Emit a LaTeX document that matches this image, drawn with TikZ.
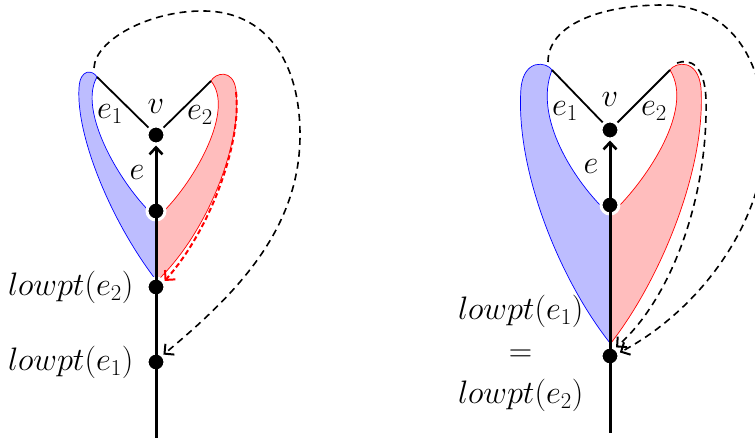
\documentclass[tikz,border=0pt]{standalone}
\usepackage{fix-cm}
\usetikzlibrary{arrows.meta,backgrounds}
\begin{document}
\begin{tikzpicture}[x=1pt,y=-1pt,
  font=\fontsize{32.5}{42}\selectfont,
  dot/.style={circle,fill=black,draw=white,line width=3pt,minimum size=18pt,inner sep=0pt},
  spine/.style={line width=3pt},
  edgeline/.style={line width=1.8pt},
  blueleaf/.style={draw=blue,fill=blue!26,line width=0.7pt},
  redleaf/.style={draw=red,fill=red!26,line width=0.7pt},
  tipstyle/.style={-{Straight Barb[length=7pt,width=14pt,line width=2pt]}},
  spinetip/.style={-{Straight Barb[length=7pt,width=13pt,line width=2.6pt]}},
  dasharrow/.style={line width=1.6pt,dash pattern=on 7pt off 5pt,tipstyle},
  reddash/.style={red,line width=2pt,dash pattern=on 5pt off 3pt,tipstyle},
  lbl/.style={inner sep=0pt}
]
\useasboundingbox (0,0) rectangle (755,441);

% ---------------- left diagram ----------------
\node[dot] (v) at (156,135) {};
\node[dot] (u) at (156,211) {};
\node[dot] (L2) at (156,287) {};
\node[dot] (L1) at (156,362) {};
\coordinate (bot) at (156,438);
\coordinate (A1) at (97,77);
\coordinate (A2) at (211,81);

\begin{scope}[on background layer]
\draw[blueleaf] (A1) .. controls (93,70) and (80,68) .. (79,88)
  .. controls (76,135) and (110,220) .. (156,280) -- (156,214) -- (150,212)
  .. controls (118,180) and (78,110) .. (A1) -- cycle;
\draw[redleaf] (A2) .. controls (215,73) and (233,68) .. (236,90)
  .. controls (242,140) and (210,230) .. (157,281) -- (157,214) -- (163,212)
  .. controls (195,180) and (235,110) .. (A2) -- cycle;
\draw[edgeline] (v.center) -- (A1);
\draw[edgeline] (v.center) -- (A2);
\end{scope}

\draw[spine] (u.center) -- (bot);
\draw[spine,spinetip] (u.center) -- (v.south);
\draw[reddash] (236,92) .. controls (242,140) and (212,228) .. (L2.35);
\draw[dasharrow] (94,68) .. controls (95,40) and (150,10) .. (205,11)
  .. controls (265,12) and (300,60) .. (300,135)
  .. controls (300,230) and (235,295) .. (L1.45);

\node[lbl] (lv) at (156,107) {$v$};
\node[lbl] (le1) at (110,114) {$e_1$};
\node[lbl] (le2) at (200,115) {$e_2$};
\node[lbl] (le) at (137,173) {$e$};
\node[lbl,anchor=east] (lL2) at ([xshift=-12pt]L2.west) {$lowpt(e_2)$};
\node[lbl,anchor=east] (lL1) at ([xshift=-12pt]L1.west) {$lowpt(e_1)$};

% ---------------- right diagram ----------------
\node[dot] (vr) at (610,130) {};
\node[dot] (ur) at (610,205) {};
\node[dot] (Lr) at (610,356) {};
\coordinate (botr) at (610,433);
\coordinate (A1r) at (552,70);
\coordinate (A2r) at (670,70);

\begin{scope}[on background layer]
\draw[blueleaf] (A1r) .. controls (547,62) and (524,58) .. (521,88)
  .. controls (515,170) and (560,280) .. (610,343) -- (610,209) -- (602,207)
  .. controls (575,180) and (533,118) .. (A1r) -- cycle;
\draw[redleaf] (A2r) .. controls (675,62) and (698,58) .. (701,88)
  .. controls (706,170) and (660,280) .. (611,343) -- (611,209) -- (618,207)
  .. controls (645,180) and (695,110) .. (A2r) -- cycle;
\draw[edgeline] (vr.center) -- (A1r);
\draw[edgeline] (vr.center) -- (A2r);
\end{scope}

\draw[spine] (ur.center) -- (botr);
\draw[spine,spinetip] (ur.center) -- (vr.south);
\draw[dasharrow] (677,63) .. controls (690,58) and (705,65) .. (706,100)
  .. controls (708,200) and (670,300) .. (Lr.55);
\draw[dasharrow] (548,62) .. controls (548,25) and (600,5) .. (663,5)
  .. controls (720,5) and (762,45) .. (765,130)
  .. controls (767,220) and (700,310) .. (Lr.20);

\node[lbl] (lvr) at (610,100) {$v$};
\node[lbl] (le1r) at (565,111) {$e_1$};
\node[lbl] (le2r) at (654,111) {$e_2$};
\node[lbl] (ler) at (591,167) {$e$};
\node[lbl,anchor=east,align=center] (lLr) at ([xshift=-16pt,yshift=3pt]Lr.west)
  {$lowpt(e_1)$\\$=$\\$lowpt(e_2)$};
\end{tikzpicture}
\end{document}
